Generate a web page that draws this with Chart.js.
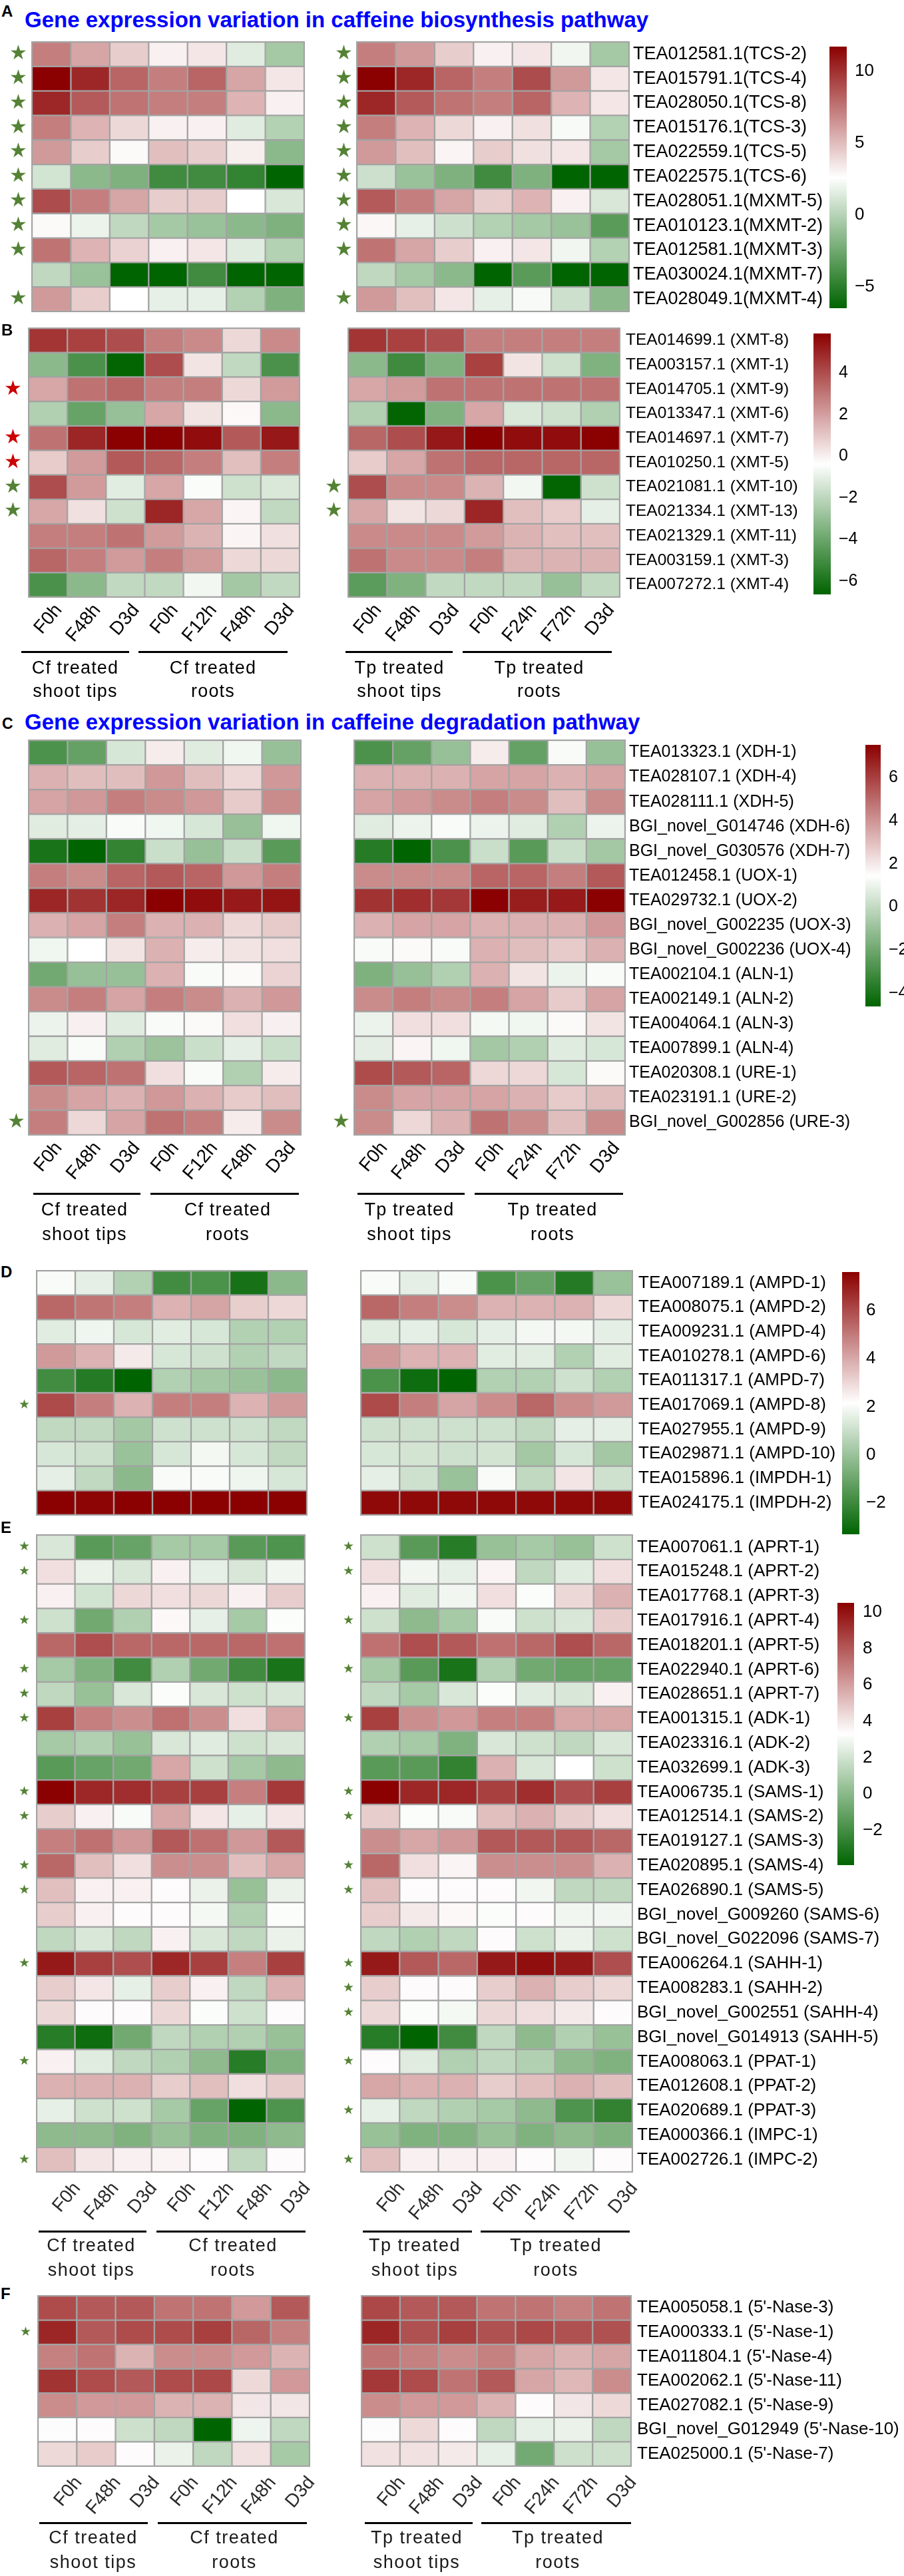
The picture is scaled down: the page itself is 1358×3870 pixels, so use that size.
<!DOCTYPE html>
<html>
<head>
<meta charset="utf-8">
<script src="https://cdn.jsdelivr.net/npm/chart.js@4.4.1/dist/chart.umd.min.js"></script>
<style>
  body { margin: 0; background: #fff; }
  #page { position: relative; width: 1358px; height: 3870px; overflow: hidden; font-family: 'Liberation Sans', Arial, sans-serif; }
  .box { position: absolute; }
  .txt { position: absolute; white-space: nowrap; line-height: 1; }
  .rule { position: absolute; background: #000; height: 3px; }
</style>
</head>
<body>
<div id="page"></div>
<script>
// ---- columns ----
const colsCf = ['F0h', 'F48h', 'D3d', 'F0h', 'F12h', 'F48h', 'D3d'];
const colsTp = ['F0h', 'F48h', 'D3d', 'F0h', 'F24h', 'F72h', 'D3d'];

// ---- A: caffeine biosynthesis (TCS / MXMT) ----
const genesA = ['TEA012581.1(TCS-2)', 'TEA015791.1(TCS-4)', 'TEA028050.1(TCS-8)', 'TEA015176.1(TCS-3)',
  'TEA022559.1(TCS-5)', 'TEA022575.1(TCS-6)', 'TEA028051.1(MXMT-5)', 'TEA010123.1(MXMT-2)',
  'TEA012581.1(MXMT-3)', 'TEA030024.1(MXMT-7)', 'TEA028049.1(MXMT-4)'];
const cfA = [
  [7.2, 5.8, 4.4, 3.1, 3.5, 1.5, -0.6],
  [11.7, 10.3, 8.1, 7.2, 8.1, 5.8, 3.5],
  [10.3, 8.5, 7.6, 7.2, 7.2, 5.3, 3.1],
  [7.2, 5.3, 4.0, 3.1, 3.1, 1.5, -0.1],
  [6.2, 4.4, 2.8, 4.9, 4.4, 3.2, -1.5],
  [1.0, -1.5, -2.0, -4.2, -4.2, -4.7, -6.5],
  [9.0, 7.2, 5.8, 4.4, 4.4, 2.6, 1.2],
  [2.8, 1.9, 0.3, -0.6, -1.0, -1.5, -2.0],
  [7.6, 5.3, 4.2, 3.1, 3.5, 1.5, -0.1],
  [0.3, -1.0, -6.5, -6.5, -4.2, -6.5, -6.5],
  [6.2, 4.4, 2.6, 1.7, 1.7, -0.1, -2.0]
];
const tpA = [
  [7.2, 6.2, 4.4, 3.1, 3.5, 2.1, -0.6],
  [11.7, 10.3, 8.1, 7.2, 9.0, 6.2, 3.5],
  [10.3, 8.5, 7.6, 7.2, 8.1, 5.3, 3.5],
  [7.2, 5.3, 4.0, 3.1, 3.7, 2.3, -0.1],
  [6.2, 4.9, 3.0, 4.4, 3.7, 3.5, -0.6],
  [0.8, -1.0, -2.0, -4.2, -2.0, -6.5, -6.5],
  [8.5, 7.2, 5.8, 4.4, 5.3, 3.1, 1.2],
  [2.9, 1.7, 0.8, -0.1, -0.6, -1.0, -3.3],
  [7.6, 5.8, 4.4, 3.1, 3.5, 2.1, -0.1],
  [0.3, -0.6, -1.5, -6.5, -3.3, -6.5, -6.5],
  [6.2, 4.9, 3.5, 1.7, 2.3, 0.8, -1.5]
];
const starsCfA = ['g', 'g', 'g', 'g', 'g', 'g', 'g', 'g', 'g', '', 'g'];
const starsTpA = ['g', 'g', 'g', 'g', 'g', 'g', 'g', 'g', 'g', '', 'g'];
const rangeA = [-6.5, 11.7];
const ticksA = [10, 5, 0, -5];

// ---- B: XMT ----
const genesB = ['TEA014699.1 (XMT-8)', 'TEA003157.1 (XMT-1)', 'TEA014705.1 (XMT-9)', 'TEA013347.1 (XMT-6)',
  'TEA014697.1 (XMT-7)', 'TEA010250.1 (XMT-5)', 'TEA021081.1 (XMT-10)', 'TEA021334.1 (XMT-13)',
  'TEA021329.1 (XMT-11)', 'TEA003159.1 (XMT-3)', 'TEA007272.1 (XMT-4)'];
const cfB = [
  [4.6, 4.3, 4.0, 2.8, 2.5, 0.6, 2.5],
  [-3.2, -4.8, -6.6, 4.0, 0.3, -1.9, -4.8],
  [1.8, 3.1, 3.4, 2.8, 2.8, 0.6, 2.1],
  [-2.3, -4.1, -2.9, 1.8, 0.3, -0.2, -3.2],
  [3.1, 5.0, 5.9, 5.9, 5.6, 3.7, 5.3],
  [0.9, 2.1, 3.7, 3.4, 2.8, 1.2, 2.8],
  [4.0, 2.1, -1.1, 1.8, -0.5, -1.6, -1.3],
  [1.8, 0.4, -1.6, 5.0, 1.8, -0.1, -1.9],
  [2.8, 2.8, 3.1, 2.1, 1.5, -0.1, 0.4],
  [3.4, 2.8, 2.1, 2.8, 2.1, 0.6, 0.6],
  [-4.8, -3.2, -1.9, -1.9, -0.7, -2.6, -1.9]
];
const tpB = [
  [4.6, 4.3, 4.0, 2.8, 2.8, 2.8, 2.8],
  [-3.2, -5.1, -3.5, 4.3, 0.3, -1.6, -3.5],
  [1.8, 2.1, 3.1, 3.1, 3.1, 3.1, 3.1],
  [-2.3, -6.6, -3.5, 1.8, -1.3, -1.6, -2.3],
  [3.4, 4.0, 5.3, 5.9, 5.6, 5.6, 5.9],
  [0.9, 1.8, 3.1, 3.4, 3.4, 3.4, 3.4],
  [4.0, 2.5, 2.5, 1.5, -0.7, -6.6, -1.6],
  [1.8, 0.3, 0.6, 5.0, 1.2, 0.9, -1.0],
  [2.5, 2.5, 2.5, 2.1, 1.5, 1.2, 1.2],
  [3.1, 2.5, 2.5, 2.8, 1.5, 1.5, 1.5],
  [-4.4, -3.5, -1.9, -1.9, -1.9, -2.9, -1.9]
];
const starsCfB = ['', '', 'r', '', 'r', 'r', 'g', 'g', '', '', ''];
const starsTpB = ['', '', '', '', '', '', 'g', 'g', '', '', ''];
const rangeB = [-6.64, 5.9];
const ticksB = [4, 2, 0, -2, -4, -6];

// ---- C: caffeine degradation ----
const genesC = ['TEA013323.1 (XDH-1)', 'TEA028107.1 (XDH-4)', 'TEA028111.1 (XDH-5)', 'BGI_novel_G014746 (XDH-6)',
  'BGI_novel_G030576 (XDH-7)', 'TEA012458.1 (UOX-1)', 'TEA029732.1 (UOX-2)', 'BGI_novel_G002235 (UOX-3)',
  'BGI_novel_G002236 (UOX-4)', 'TEA002104.1 (ALN-1)', 'TEA002149.1 (ALN-2)', 'TEA004064.1 (ALN-3)',
  'TEA007899.1 (ALN-4)', 'TEA020308.1 (URE-1)', 'TEA023191.1 (URE-2)', 'BGI_novel_G002856 (URE-3)'];
const cfC = [
  [-2.8, -2.2, 0.5, 1.9, 0.7, 1.1, -1.0],
  [3.3, 3.0, 3.0, 3.9, 3.0, 2.4, 3.9],
  [3.6, 3.9, 4.5, 4.2, 3.9, 2.7, 4.2],
  [0.7, 0.8, 1.3, 1.1, 0.5, -1.0, 1.1],
  [-4.0, -4.6, -3.4, 0.2, -1.0, 0.2, -2.5],
  [4.5, 4.2, 5.1, 5.4, 5.1, 3.9, 4.5],
  [6.6, 6.3, 6.6, 7.5, 7.2, 6.9, 7.0],
  [3.3, 3.6, 4.5, 3.3, 3.3, 2.4, 2.7],
  [1.1, 1.45, 2.1, 3.3, 1.9, 2.1, 2.2],
  [-1.9, -1.0, -1.0, 3.3, 1.3, 1.6, 2.5],
  [4.2, 4.5, 3.6, 4.5, 4.2, 3.3, 3.9],
  [1.0, 1.8, 0.7, 1.3, 1.6, 2.2, 1.8],
  [0.7, 1.3, -0.4, -0.9, 0.2, 0.8, 0.2],
  [5.4, 5.1, 4.8, 2.2, 1.3, -0.4, 1.9],
  [4.2, 3.6, 3.3, 3.9, 3.3, 2.7, 3.0],
  [4.5, 2.4, 3.6, 4.8, 4.5, 1.9, 4.2]
];
const tpC = [
  [-2.8, -2.2, -1.0, 1.9, -2.2, 1.3, -1.0],
  [3.3, 3.3, 3.3, 3.6, 3.6, 3.3, 3.6],
  [3.6, 3.9, 4.2, 4.5, 4.2, 3.0, 4.2],
  [0.7, 1.0, 1.3, 1.0, 0.7, -0.4, 1.0],
  [-3.7, -4.6, -2.8, 0.2, -2.5, 0.2, -0.7],
  [4.2, 4.2, 4.2, 5.1, 5.1, 4.5, 5.4],
  [6.3, 6.4, 6.2, 7.5, 6.8, 6.9, 7.5],
  [3.3, 3.6, 3.6, 3.3, 3.3, 3.3, 3.9],
  [1.3, 1.6, 1.3, 3.3, 3.0, 2.7, 3.3],
  [-1.6, -1.0, -0.4, 3.3, 2.1, 1.0, 1.3],
  [4.2, 4.5, 4.2, 4.5, 3.6, 2.7, 3.6],
  [1.0, 2.2, 2.2, 1.2, 1.1, 1.6, 2.1],
  [0.8, 1.7, 1.1, -0.7, -0.4, 0.7, 0.5],
  [5.7, 5.4, 5.1, 2.4, 2.4, 0.5, 1.6],
  [4.2, 3.6, 3.6, 3.6, 3.3, 2.7, 3.0],
  [4.2, 2.4, 3.3, 4.8, 4.2, 3.0, 4.2]
];
const starsCfC = ['', '', '', '', '', '', '', '', '', '', '', '', '', '', '', 'g'];
const starsTpC = ['', '', '', '', '', '', '', '', '', '', '', '', '', '', '', 'g'];
const rangeC = [-4.6, 7.5];
const ticksC = [6, 4, 2, 0, -2, -4];

// ---- D: AMPD / IMPDH ----
const genesD = ['TEA007189.1 (AMPD-1)', 'TEA008075.1 (AMPD-2)', 'TEA009231.1 (AMPD-4)', 'TEA010278.1 (AMPD-6)',
  'TEA011317.1 (AMPD-7)', 'TEA017069.1 (AMPD-8)', 'TEA027955.1 (AMPD-9)', 'TEA029871.1 (AMPD-10)',
  'TEA015896.1 (IMPDH-1)', 'TEA024175.1 (IMPDH-2)'];
const cfD = [
  [2.0, 1.6, 0.5, -1.9, -1.7, -2.8, -0.3],
  [5.4, 5.1, 4.9, 3.8, 4.1, 3.2, 3.0],
  [1.5, 1.8, 1.3, 1.5, 1.3, 0.5, 0.5],
  [4.3, 3.8, 2.6, 1.3, 1.1, 0.5, 0.8],
  [-1.9, -2.5, -3.3, 0.5, 0.2, 0.0, -0.3],
  [6.0, 4.9, 3.8, 4.9, 4.9, 3.8, 4.3],
  [0.8, 0.8, 0.2, 1.1, 1.1, 1.1, 0.8],
  [1.3, 1.1, 0.0, 1.3, 1.9, 1.3, 0.8],
  [1.6, 0.8, -0.3, 2.0, 2.0, 1.8, 1.3],
  [7.6, 7.5, 7.6, 7.6, 7.6, 7.6, 7.6]
];
const tpD = [
  [2.0, 1.6, 2.0, -1.7, -1.1, -2.5, 0.0],
  [5.4, 4.9, 4.6, 3.8, 3.8, 3.8, 3.0],
  [1.5, 1.6, 1.3, 1.6, 1.9, 1.9, 1.6],
  [4.3, 3.8, 3.8, 1.5, 1.5, 0.5, 1.5],
  [-1.7, -3.0, -3.3, 0.5, 0.5, 1.1, 0.5],
  [6.0, 4.9, 4.1, 4.6, 5.4, 4.6, 4.3],
  [1.1, 1.1, 1.1, 1.1, 0.8, 1.6, 1.6],
  [1.3, 1.2, 1.1, 1.2, 0.2, 1.3, 0.2],
  [1.6, 1.1, 0.0, 2.0, 0.8, 2.7, 1.1],
  [7.4, 7.4, 7.4, 7.4, 7.4, 7.4, 7.4]
];
const starsCfD = ['', '', '', '', '', 'g', '', '', '', ''];
const starsTpD = ['', '', '', '', '', '', '', '', '', ''];
const rangeD = [-3.3, 7.6];
const ticksD = [6, 4, 2, 0, -2];

// ---- E: APRT / ADK / SAMS / SAHH / PPAT / IMPC ----
const genesE = ['TEA007061.1 (APRT-1)', 'TEA015248.1 (APRT-2)', 'TEA017768.1 (APRT-3)', 'TEA017916.1 (APRT-4)',
  'TEA018201.1 (APRT-5)', 'TEA022940.1 (APRT-6)', 'TEA028651.1 (APRT-7)', 'TEA001315.1 (ADK-1)',
  'TEA023316.1 (ADK-2)', 'TEA032699.1 (ADK-3)', 'TEA006735.1 (SAMS-1)', 'TEA012514.1 (SAMS-2)',
  'TEA019127.1 (SAMS-3)', 'TEA020895.1 (SAMS-4)', 'TEA026890.1 (SAMS-5)', 'BGI_novel_G009260 (SAMS-6)',
  'BGI_novel_G022096 (SAMS-7)', 'TEA006264.1 (SAHH-1)', 'TEA008283.1 (SAHH-2)', 'BGI_novel_G002551 (SAHH-4)',
  'BGI_novel_G014913 (SAHH-5)', 'TEA008063.1 (PPAT-1)', 'TEA012608.1 (PPAT-2)', 'TEA020689.1 (PPAT-3)',
  'TEA000366.1 (IMPC-1)', 'TEA002726.1 (IMPC-2)'];
const cfE = [
  [2.2, -1.4, -1.0, 0.8, 0.8, -1.4, -1.7],
  [4.2, 2.7, 2.2, 3.7, 2.6, 2.2, 2.9],
  [3.7, 2.0, 4.4, 4.2, 4.4, 3.7, 4.7],
  [1.9, -0.7, 1.1, 3.5, 2.6, 0.8, 3.2],
  [7.6, 8.3, 7.6, 7.6, 7.6, 7.6, 7.3],
  [0.8, -0.3, -2.1, 1.1, -0.7, -2.1, -3.2],
  [1.5, 0.4, 2.2, 3.2, 2.2, 1.9, 2.2],
  [8.7, 6.9, 6.5, 7.3, 6.5, 4.2, 5.8],
  [0.8, 1.1, 0.4, 2.2, 2.4, 1.9, 2.2],
  [-1.4, -1.0, -0.7, 5.8, 1.9, 0.8, 0.1],
  [10.5, 9.4, 9.2, 8.7, 8.7, 6.9, 8.9],
  [4.7, 3.7, 3.1, 5.8, 4.0, 2.6, 4.0],
  [6.9, 7.3, 6.2, 8.0, 7.3, 6.2, 8.0],
  [7.6, 5.1, 4.2, 6.5, 6.5, 5.1, 5.8],
  [5.1, 3.7, 3.7, 3.4, 2.7, 0.4, 2.7],
  [4.7, 3.7, 3.4, 3.4, 3.0, 1.1, 3.2],
  [1.5, 2.2, 1.5, 3.7, 2.2, 1.5, 2.7],
  [9.8, 8.7, 8.3, 9.4, 8.7, 6.9, 8.7],
  [4.7, 4.0, 2.6, 4.7, 3.7, 1.5, 5.5],
  [4.4, 3.4, 3.4, 4.4, 3.2, 1.9, 3.4],
  [-2.8, -3.5, -0.7, 1.5, 1.1, 1.1, 0.4],
  [3.7, 2.4, 1.5, 1.1, 0.1, -2.8, -0.3],
  [5.5, 5.5, 5.5, 4.7, 5.1, 4.2, 4.7],
  [2.6, 1.9, 1.9, 0.8, -1.0, -3.9, -1.7],
  [0.1, 0.1, -0.3, 0.4, -0.3, -0.3, 0.1],
  [5.1, 4.0, 3.7, 3.6, 3.4, 1.5, 3.4]
];
const tpE = [
  [1.9, -1.4, -2.8, 0.4, 0.8, 0.4, 1.9],
  [4.2, 2.9, 2.6, 3.6, 1.5, 2.4, 4.2],
  [3.7, 2.4, 2.9, 4.2, 3.2, 4.4, 5.5],
  [1.9, 0.1, 0.8, 3.1, 1.9, 2.2, 4.7],
  [7.3, 8.3, 8.0, 7.3, 7.6, 8.3, 7.6],
  [0.8, -1.4, -3.2, 1.1, -0.7, -1.0, -1.0],
  [1.5, 0.8, 2.2, 3.2, 2.4, 2.2, 3.7],
  [8.7, 6.5, 6.2, 6.9, 6.9, 5.8, 5.8],
  [1.1, 0.8, -0.3, 2.2, 1.9, 1.5, 2.2],
  [-1.4, -1.4, -2.5, 5.5, 2.2, 3.3, 1.9],
  [10.5, 9.4, 9.4, 8.7, 9.2, 8.3, 8.7],
  [4.7, 3.2, 3.1, 5.1, 5.5, 4.7, 4.2],
  [6.5, 5.8, 6.2, 8.0, 8.0, 8.0, 7.6],
  [7.6, 4.2, 3.6, 6.5, 6.5, 6.5, 5.5],
  [5.1, 3.4, 3.4, 3.4, 2.9, 1.5, 1.5],
  [4.7, 3.9, 3.5, 3.2, 3.4, 2.9, 2.9],
  [1.5, 1.1, 1.5, 3.4, 1.9, 2.7, 1.9],
  [9.8, 8.0, 7.6, 9.8, 10.1, 9.8, 8.3],
  [4.7, 3.4, 3.4, 4.7, 5.5, 4.7, 4.4],
  [4.4, 3.2, 3.0, 4.4, 4.2, 3.9, 3.4],
  [-2.8, -3.9, -2.1, 1.5, 0.1, 1.1, 0.4],
  [3.4, 2.4, 1.1, 1.5, 1.1, 0.1, -0.3],
  [5.8, 5.5, 5.5, 4.7, 5.1, 5.5, 5.1],
  [2.6, 1.5, 1.1, 0.8, 0.1, -1.7, -2.5],
  [0.4, -0.3, -0.3, 0.4, -0.3, 0.1, -0.3],
  [5.1, 3.7, 3.7, 3.7, 3.4, 2.9, 3.4]
];
const starsCfE = ['g', 'g', '', 'g', '', 'g', 'g', 'g', '', '', 'g', 'g', '', 'g', 'g', '', '', 'g', '', '', '', 'g', '', '', '', 'g'];
const starsTpE = ['g', 'g', '', 'g', '', 'g', '', 'g', '', '', 'g', 'g', '', 'g', 'g', '', '', 'g', 'g', 'g', '', 'g', '', 'g', '', 'g'];
const rangeE = [-3.9, 10.5];
const ticksE = [10, 8, 6, 4, 2, 0, -2];

// ---- F: 5'-Nase (no colour key in the figure) ----
const genesF = ["TEA005058.1 (5'-Nase-3)", "TEA000333.1 (5'-Nase-1)", "TEA011804.1 (5'-Nase-4)",
  "TEA002062.1 (5'-Nase-11)", "TEA027082.1 (5'-Nase-9)", "BGI_novel_G012949 (5'-Nase-10)", "TEA025000.1 (5'-Nase-7)"];
const cfF = [
  [7.2, 6.9, 6.9, 6.3, 6.3, 5.4, 6.9],
  [8.1, 6.9, 7.2, 7.2, 7.5, 6.6, 6.0],
  [6.0, 6.3, 4.8, 5.7, 5.7, 5.4, 4.8],
  [7.8, 7.2, 6.9, 7.2, 7.3, 3.9, 5.4],
  [5.7, 5.4, 5.4, 4.8, 4.8, 3.6, 3.6],
  [2.9, 3.1, 1.8, 1.5, -3.0, 2.6, 1.5],
  [3.9, 4.2, 3.1, 2.5, 1.5, 3.7, 0.9]
];
const tpF = [
  [7.3, 6.9, 6.9, 6.3, 6.3, 6.0, 6.3],
  [8.1, 7.1, 7.5, 7.1, 7.3, 7.1, 7.1],
  [6.3, 6.0, 5.7, 6.0, 5.1, 4.8, 5.1],
  [7.7, 7.2, 6.3, 6.9, 5.1, 4.7, 5.7],
  [5.7, 5.4, 5.4, 4.8, 3.1, 3.6, 3.9],
  [2.9, 3.9, 3.1, 1.5, 2.4, 2.5, 1.5],
  [3.7, 3.7, 3.5, 2.4, -0.3, 1.8, 1.8]
];
const starsCfF = ['', 'g', '', '', '', '', ''];
const starsTpF = ['', '', '', '', '', '', ''];
const rangeF = [-3, 9];

const groupsCf = [['Cf treated', 'shoot tips'], ['Cf treated', 'roots']];
const groupsTp = [['Tp treated', 'shoot tips'], ['Tp treated', 'roots']];

// ---- helpers ----
Chart.defaults.font.family = "'Liberation Sans', Arial, sans-serif";
const page = document.getElementById('page');
const green = '#548235', red = '#cc0000', gridGrey = '#a3a3a3';
const lowC = [0, 100, 0], highC = [139, 0, 0];

function heat(v, range) {
  const lo = range[0], hi = range[1], mid = (lo + hi) / 2;
  const up = v >= mid;
  const t = Math.max(0, Math.min(1, up ? (v - mid) / (hi - mid) : (mid - v) / (mid - lo)));
  const c = (up ? highC : lowC).map(e => Math.round(255 + (e - 255) * t));
  return 'rgb(' + c.join(',') + ')';
}

function addBox(l, t, w, h) {
  const d = document.createElement('div');
  d.className = 'box';
  d.style.cssText = 'left:' + l + 'px;top:' + t + 'px;width:' + w + 'px;height:' + h + 'px';
  const c = document.createElement('canvas');
  d.appendChild(c);
  page.appendChild(d);
  return c;
}

function addText(txt, l, t, css) {
  const d = document.createElement('div');
  d.className = 'txt';
  d.textContent = txt;
  d.style.cssText = 'left:' + l + 'px;top:' + t + 'px;' + (css || '');
  page.appendChild(d);
}

function rule(x1, x2, y) {
  const d = document.createElement('div');
  d.className = 'rule';
  d.style.cssText = 'left:' + x1 + 'px;top:' + (y - 1.5) + 'px;width:' + (x2 - x1) + 'px';
  page.appendChild(d);
}

// outer frame of the grid
const frame = {
  id: 'frame',
  afterDatasetsDraw(chart) {
    const a = chart.chartArea, ctx = chart.ctx;
    ctx.save();
    ctx.strokeStyle = gridGrey;
    ctx.lineWidth = 2;
    ctx.strokeRect(a.left, a.top, a.right - a.left, a.bottom - a.top);
    ctx.restore();
  }
};

function heatmap(g, genes, rows, stars, cols, range, o) {
  const padT = 28;
  const labelW = o.labelW || 0, xlabH = o.xlabH || 0;
  const padR = labelW ? 0 : 16;   // room for the last rotated label when there is no label axis
  const canvas = addBox(g.l - o.starW, g.t - padT, o.starW + (g.r - g.l) + labelW + padR,
    (g.b - g.t) + padT + (xlabH || padT));
  new Chart(canvas, {
    type: 'bar',
    data: {
      labels: genes,
      datasets: cols.map((c, j) => ({
        label: c,
        data: genes.map(() => 1),
        backgroundColor: rows.map(r => heat(r[j], range)),
        borderColor: gridGrey,
        borderWidth: 1.5,
        borderSkipped: false,
        categoryPercentage: 1,
        barPercentage: 1,
        xAxisID: 'x',
        yAxisID: 'y'
      }))
    },
    options: {
      indexAxis: 'y',
      responsive: true,
      maintainAspectRatio: false,
      animation: false,
      events: [],
      layout: { padding: { top: padT, bottom: xlabH ? 0 : padT, left: 0, right: padR } },
      plugins: { legend: { display: false }, tooltip: { enabled: false } },
      scales: {
        x: { type: 'linear', stacked: true, min: 0, max: cols.length, display: false },
        y: {
          type: 'category', stacked: true, position: 'right', display: labelW > 0, offset: true,
          grid: { display: false, drawTicks: false }, border: { display: false },
          ticks: { autoSkip: false, color: '#000', padding: o.labelPad || 6, font: { size: o.labelFont } },
          afterFit: s => { s.width = labelW; }
        },
        ys: {
          type: 'category', labels: stars.map(s => s ? '\u2605' : ''), position: 'left', offset: true,
          grid: { display: false, drawTicks: false }, border: { display: false },
          ticks: {
            autoSkip: false, padding: o.starPad,
            color: c => stars[c.index] === 'r' ? red : green,
            font: { family: 'DejaVu Sans', size: o.starFont }
          },
          afterFit: s => { s.width = o.starW; }
        },
        xc: {
          type: 'category', labels: cols, position: 'bottom', display: xlabH > 0, offset: true,
          grid: { display: false, drawTicks: false }, border: { display: false },
          ticks: {
            autoSkip: false, minRotation: 50, maxRotation: 50,
            color: o.xColor || '#000', padding: o.xPad || 3, labelOffset: o.xOff || 0,
            font: { size: o.xFont }
          },
          afterFit: s => { s.height = xlabH; }
        }
      }
    },
    plugins: [frame]
  });
}

function colorbar(b, range, ticks, o) {
  const pad = 30, labW = 70;
  const canvas = addBox(b.l, b.t - pad, (b.r - b.l) + labW, (b.b - b.t) + 2 * pad);
  new Chart(canvas, {
    type: 'bar',
    data: {
      labels: [''],
      datasets: [{
        data: [range],
        borderWidth: 0,
        categoryPercentage: 1,
        barPercentage: 1,
        backgroundColor: c => {
          const a = c.chart.chartArea;
          if (!a) return null;
          const gr = c.chart.ctx.createLinearGradient(0, a.bottom, 0, a.top);
          for (let i = 0; i <= 40; i++) {
            gr.addColorStop(i / 40, heat(range[0] + (range[1] - range[0]) * i / 40, range));
          }
          return gr;
        }
      }]
    },
    options: {
      responsive: true,
      maintainAspectRatio: false,
      animation: false,
      events: [],
      layout: { padding: { top: pad, bottom: pad } },
      plugins: { legend: { display: false }, tooltip: { enabled: false } },
      scales: {
        x: { display: false },
        y: {
          position: 'right', min: range[0], max: range[1],
          grid: { display: false, drawTicks: false }, border: { display: false },
          afterBuildTicks: s => { s.ticks = ticks.map(v => ({ value: v })); },
          ticks: {
            color: '#000', padding: o.pad, font: { size: o.font },
            callback: v => v < 0 ? '\u2212' + Math.abs(v) : String(v)
          },
          afterFit: s => { s.width = labW; }
        }
      }
    }
  });
}

// two-line group captions; y1/y2 are the baselines
function groupLabels(centers, y1, y2, groups, css) {
  const fs = 27;
  centers.forEach((cx, i) => {
    const lines = groups[i];
    const style = 'width:300px;text-align:center;font-size:' + fs + 'px;' + css;
    addText(lines[0], cx - 150, y1 - 0.845 * fs, style);
    addText(lines[1], cx - 150, y2 - 0.845 * fs, style);
  });
}

const bigStar = { starW: 40, starFont: 30 };
const smallStar = { starW: 40, starFont: 19 };
const xTop = { xlabH: 110, xFont: 28, xOff: 16, xPad: 4 };
const xBottom = { xlabH: 110, xFont: 28, xOff: 32, xPad: 9, xColor: '#2a2a2a' };
const letterCss = 'font-weight:bold;font-size:24px;color:#000';
const titleCss = 'font-weight:bold;font-size:33px;color:#0000ff';
const groupCssTop = 'color:#000;letter-spacing:1.2px';
const groupCssBottom = 'color:#1a1a1a;letter-spacing:1.5px';

// ---- panel A ----
addText('A', 2, 5, letterCss);
addText('Gene expression variation in caffeine biosynthesis pathway', 37, 13, titleCss);
heatmap({ l: 48, t: 63, r: 457, b: 468 }, genesA, cfA, starsCfA, colsCf, rangeA,
  Object.assign({}, bigStar, { starPad: 7 }));
heatmap({ l: 536, t: 63, r: 945, b: 468 }, genesA, tpA, starsTpA, colsTp, rangeA,
  Object.assign({}, bigStar, { starPad: 6, labelW: 300, labelFont: 27, labelPad: 6 }));
colorbar({ l: 1246, t: 70, r: 1272, b: 463 }, rangeA, ticksA, { font: 26, pad: 12 });

// ---- panel B ----
addText('B', 2, 484, letterCss);
heatmap({ l: 43, t: 493, r: 450, b: 897 }, genesB, cfB, starsCfB, colsCf, rangeB,
  Object.assign({}, bigStar, xTop, { starPad: 10 }));
heatmap({ l: 523, t: 493, r: 931, b: 897 }, genesB, tpB, starsTpB, colsTp, rangeB,
  Object.assign({}, bigStar, xTop, { starPad: 8, labelW: 290, labelFont: 24.5, labelPad: 9 }));
colorbar({ l: 1222, t: 501, r: 1248, b: 893 }, rangeB, ticksB, { font: 25, pad: 12 });
rule(32, 194, 979); rule(208, 432, 979); rule(519, 680, 979); rule(695, 919, 979);
groupLabels([113, 320], 1013, 1048, groupsCf, groupCssTop);
groupLabels([600, 810], 1013, 1048, groupsTp, groupCssTop);

// ---- panel C ----
addText('C', 3, 1076, 'font-weight:bold;font-size:23px;color:#000');
addText('Gene expression variation in caffeine degradation pathway', 37, 1068, titleCss);
heatmap({ l: 43, t: 1112, r: 452, b: 1705 }, genesC, cfC, starsCfC, colsCf, rangeC,
  Object.assign({}, bigStar, xTop, { starPad: 5 }));
heatmap({ l: 532, t: 1112, r: 939, b: 1705 }, genesC, tpC, starsTpC, colsTp, rangeC,
  Object.assign({}, bigStar, xTop, { starPad: 6, labelW: 345, labelFont: 25, labelPad: 6 }));
colorbar({ l: 1300, t: 1119, r: 1323, b: 1512 }, rangeC, ticksC, { font: 25, pad: 12 });
rule(50, 211, 1793); rule(226, 449, 1793); rule(537, 698, 1793); rule(713, 936, 1793);
groupLabels([127, 342], 1827, 1864, groupsCf, groupCssTop);
groupLabels([615, 830], 1827, 1864, groupsTp, groupCssTop);

// ---- panel D ----
addText('D', 1, 1899, letterCss);
heatmap({ l: 55, t: 1909, r: 461, b: 2276 }, genesD, cfD, starsCfD, colsCf, rangeD,
  Object.assign({}, smallStar, { starPad: 10 }));
heatmap({ l: 542, t: 1909, r: 950, b: 2276 }, genesD, tpD, starsTpD, colsTp, rangeD,
  Object.assign({}, smallStar, { starPad: 10, labelW: 330, labelFont: 26, labelPad: 9 }));
colorbar({ l: 1265, t: 1911, r: 1291, b: 2305 }, rangeD, ticksD, { font: 26, pad: 10 });

// ---- panel E ----
addText('E', 1, 2283, letterCss);
heatmap({ l: 55, t: 2306, r: 458, b: 3263 }, genesE, cfE, starsCfE, colsCf, rangeE,
  Object.assign({}, smallStar, xBottom, { starPad: 10 }));
heatmap({ l: 542, t: 2306, r: 950, b: 3263 }, genesE, tpE, starsTpE, colsTp, rangeE,
  Object.assign({}, smallStar, xBottom, { starPad: 10, labelW: 385, labelFont: 26, labelPad: 7 }));
colorbar({ l: 1258, t: 2408, r: 1283, b: 2802 }, rangeE, ticksE, { font: 26, pad: 13 });
rule(58, 220, 3352); rule(235, 459, 3352); rule(545, 709, 3352); rule(722, 946, 3352);
groupLabels([137, 350], 3383, 3420, groupsCf, groupCssBottom);
groupLabels([623, 835], 3383, 3420, groupsTp, groupCssBottom);

// ---- panel F ----
addText('F', 1, 3434, letterCss);
heatmap({ l: 57, t: 3449, r: 465, b: 3705 }, genesF, cfF, starsCfF, colsCf, rangeF,
  Object.assign({}, smallStar, xBottom, { starPad: 10 }));
heatmap({ l: 543, t: 3449, r: 948, b: 3705 }, genesF, tpF, starsTpF, colsTp, rangeF,
  Object.assign({}, smallStar, xBottom, { starPad: 10, labelW: 405, labelFont: 26, labelPad: 9 }));
rule(59, 222, 3790); rule(237, 461, 3790); rule(548, 710, 3790); rule(723, 948, 3790);
groupLabels([140, 352], 3822, 3859, groupsCf, groupCssBottom);
groupLabels([626, 838], 3822, 3859, groupsTp, groupCssBottom);
</script>
</body>
</html>
